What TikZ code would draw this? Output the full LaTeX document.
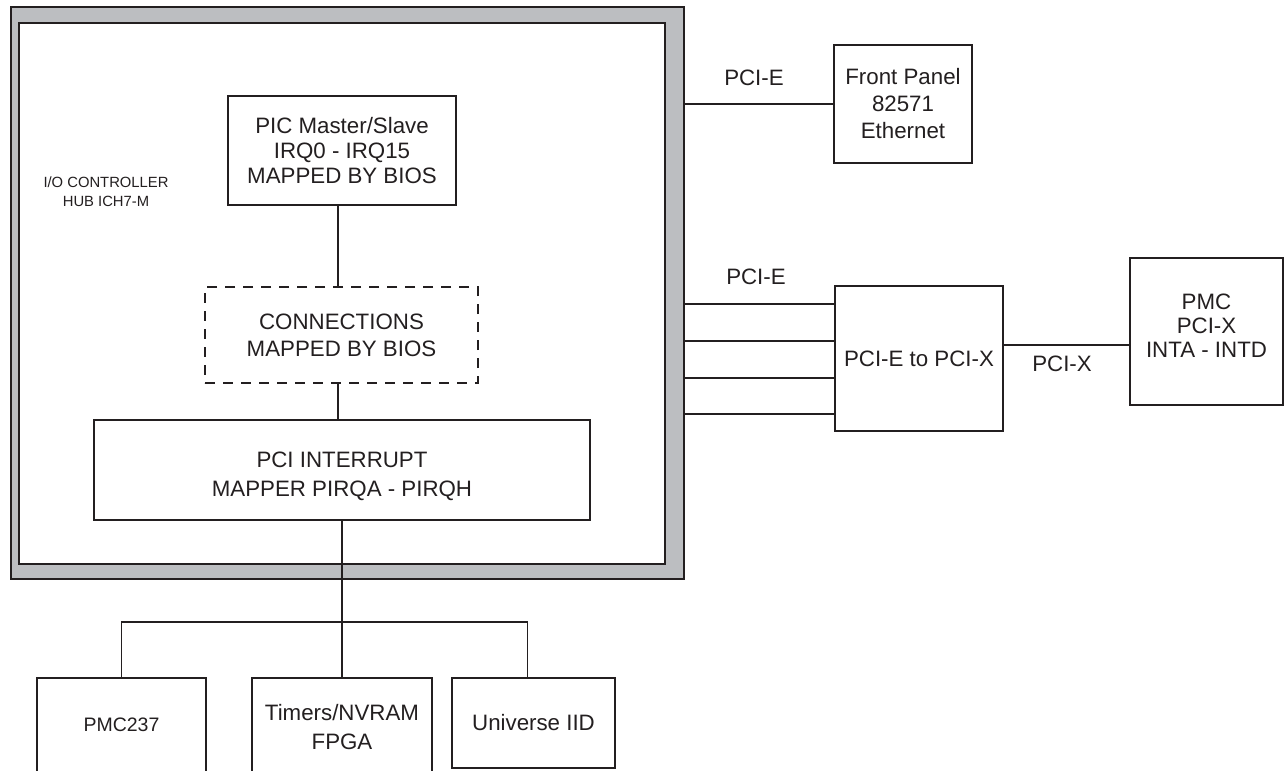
\documentclass[tikz,border=0pt]{standalone}
\usepackage{fontspec}
\setmainfont{Liberation Sans}
\definecolor{ink}{RGB}{35,31,32}
\definecolor{band}{RGB}{188,190,193}
\begin{document}
\begin{tikzpicture}[x=1pt,y=-1pt,
  every node/.style={font=\fontsize{22.3}{27}\selectfont, text=ink, align=center, inner sep=0pt},
  box/.style={draw=ink, line width=1.2pt, fill=white},
  dbox/.style={draw=ink, line width=1.2pt, dash pattern=on 10pt off 8pt},
  wire/.style={draw=ink, line width=1.2pt},
  small/.style={font=\fontsize{14.8}{19}\selectfont},
  lbl/.style={font=\fontsize{22.3}{27}\selectfont}]
\useasboundingbox (0,0) rectangle (1285,771);
\clip (0,0) rectangle (1285,771);
% hub frame
\node[draw=ink, line width=1.4pt, fill=band, minimum width=673pt, minimum height=572pt] (hub) at (347.5,293) {};
\node[draw=ink, line width=1.4pt, fill=white, minimum width=646pt, minimum height=541pt] (hubin) at (342,293.5) {};
\node[small] (hublbl) at (106,191.5) {I/O CONTROLLER\\HUB ICH7-M};
% inner boxes
\node[box, minimum width=228pt, minimum height=109pt] (pic) at (342,150.5) {PIC Master/Slave\\[-2pt]IRQ0 - IRQ15\\[-2pt]MAPPED BY BIOS};
\node[dbox, minimum width=273pt, minimum height=96pt] (conn) at (341.5,335) {CONNECTIONS\\MAPPED BY BIOS};
\node[box, minimum width=496pt, minimum height=100pt,
      label={[yshift=-6pt]center:{PCI INTERRUPT\\[2pt]MAPPER PIRQA - PIRQH}}] (pci) at (342,470) {};
\draw[wire] (pic.south -| 338,0) -- (conn.north -| 338,0);
\draw[wire] (conn.south -| 338,0) -- (pci.north -| 338,0);
% right side
\node[box, minimum width=138pt, minimum height=118pt] (fp) at (903,104) {Front Panel\\82571\\Ethernet};
\node[box, minimum width=168pt, minimum height=145pt] (br) at (919,358.5) {PCI-E to PCI-X};
\node[box, minimum width=153pt, minimum height=147pt,
      label={[yshift=6pt]center:{PMC\\[-3pt]PCI-X\\[-3pt]INTA - INTD}}] (pmc) at (1206.5,331.5) {};
\draw[wire] (hub.east |- fp.west) -- (fp.west);
\foreach \yy in {304,341,378,414} \draw[wire] (hub.east |- 0,\yy) -- (br.west |- 0,\yy);
\draw[wire] (br.east |- 0,345) -- (pmc.west |- 0,345);
\node[lbl] (l1) at (754,78) {PCI-E};
\node[lbl] (l2) at (756,277) {PCI-E};
\node[lbl] (l3) at (1062,364) {PCI-X};
% bottom boxes
\node[box, minimum width=169pt, minimum height=120pt,
      label={[anchor=center, yshift=-47pt]north:{\fontsize{19.5}{23}\selectfont PMC237}}] (p237) at (121.5,738) {};
\node[box, minimum width=180pt, minimum height=120pt,
      label={[anchor=center, yshift=-49.5pt]north:{Timers/NVRAM\\[2pt]FPGA}}] (tim) at (342,738) {};
\node[box, minimum width=163pt, minimum height=90pt] (univ) at (533.5,723) {Universe IID};
\draw[wire] (pci.south) -- (tim.north);
\draw[wire] (p237.north) -- ++(0,-55.5) -| ([xshift=-6pt]univ.north);
\end{tikzpicture}
\end{document}
